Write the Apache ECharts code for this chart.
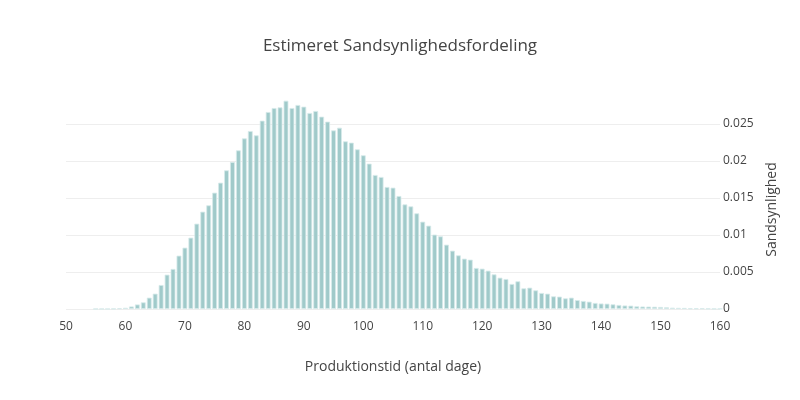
<!DOCTYPE html>
<html>
<head>
<meta charset="utf-8">
<script src="https://cdn.jsdelivr.net/npm/echarts@6/dist/echarts.min.js"></script>
<style>html,body{margin:0;padding:0;background:#fff}#c{width:800px;height:400px}</style>
</head>
<body>
<div id="c"></div>
<script>
const titleText = 'Estimeret Sandsynlighedsfordeling';
const xName = 'Produktionstid (antal dage)';
const yName = 'Sandsynlighed';
const days = [55,56,57,58,59,60,61,62,63,64,65,66,67,68,69,70,71,72,73,74,75,76,77,78,79,80,81,82,83,84,85,86,87,88,89,90,91,92,93,94,95,96,97,98,99,100,101,102,103,104,105,106,107,108,109,110,111,112,113,114,115,116,117,118,119,120,121,122,123,124,125,126,127,128,129,130,131,132,133,134,135,136,137,138,139,140,141,142,143,144,145,146,147,148,149,150,151,152,153,154,155,156,157,158,159,160];
const probs = [0.00001,0.00001,0.00002,0.00005,0.00009,0.00016,0.00034,0.00061,0.0009,0.00153,0.00207,0.00324,0.00464,0.00541,0.00721,0.00829,0.00964,0.01153,0.01315,0.01401,0.01572,0.01707,0.01874,0.01986,0.02144,0.02306,0.02405,0.02347,0.02545,0.02662,0.02716,0.02725,0.02815,0.02716,0.02757,0.02734,0.02649,0.02676,0.02599,0.02532,0.02414,0.0245,0.02266,0.02248,0.02158,0.02077,0.01964,0.01811,0.01784,0.01649,0.0164,0.01527,0.01414,0.01387,0.01293,0.0118,0.01126,0.01005,0.00982,0.00869,0.00788,0.00725,0.0068,0.00667,0.00554,0.00545,0.00518,0.00468,0.00423,0.00405,0.00338,0.00374,0.00279,0.00288,0.00252,0.00216,0.00207,0.00171,0.00167,0.00144,0.00153,0.0012,0.00108,0.00099,0.00081,0.00074,0.00072,0.00063,0.00054,0.00047,0.00045,0.00036,0.00033,0.00032,0.0003,0.00027,0.00023,0.00018,0.00015,0.00014,0.0001,0.0001,0.00009,0.00006,0.00005,0.00004];

const chart = echarts.init(document.getElementById('c'), null, {renderer: 'canvas'});
const font = '"Open Sans", "Noto Sans", sans-serif';
chart.setOption({
  animation: false,
  backgroundColor: '#fff',
  title: {
    text: titleText, left: 'center', top: 33,
    textStyle: {fontFamily: font, fontSize: 17, fontWeight: 'normal', color: '#444'}
  },
  grid: {left: 66, right: 80, top: 90, bottom: 91, containLabel: false},
  xAxis: {
    type: 'value', min: 50, max: 160, interval: 10,
    name: xName, nameLocation: 'middle', nameGap: 51,
    nameTextStyle: {fontFamily: font, fontSize: 14, color: '#444'},
    axisLine: {show: false}, axisTick: {show: false}, splitLine: {show: false},
    axisLabel: {fontFamily: font, fontSize: 12, color: '#444', margin: 12}
  },
  yAxis: {
    type: 'value', position: 'right', min: 0, max: 0.0296, interval: 0.005,
    name: yName, nameLocation: 'middle', nameGap: 45, nameRotate: 90,
    nameTextStyle: {fontFamily: font, fontSize: 14, color: '#444', padding: [0, 20, 0, 0]},
    axisLine: {show: false}, axisTick: {show: false},
    axisLabel: {fontFamily: font, fontSize: 12, color: '#444', margin: 3, showMaxLabel: false,
      formatter: v => (Math.abs(v / 0.005 - Math.round(v / 0.005)) < 1e-6 ? String(+v.toFixed(3)) : '')},
    splitLine: {show: true, lineStyle: {color: ['#eeeeee','#eeeeee','#eeeeee','#eeeeee','#eeeeee','#eeeeee','rgba(0,0,0,0)'], width: 1}}
  },
  series: [{
    type: 'bar',
    data: days.map((d, i) => [d, probs[i]]),
    barWidth: 4.8,
    itemStyle: {color: '#a0caca', borderColor: '#d6eaea', borderWidth: 0.8}
  }]
});
</script>
</body>
</html>
